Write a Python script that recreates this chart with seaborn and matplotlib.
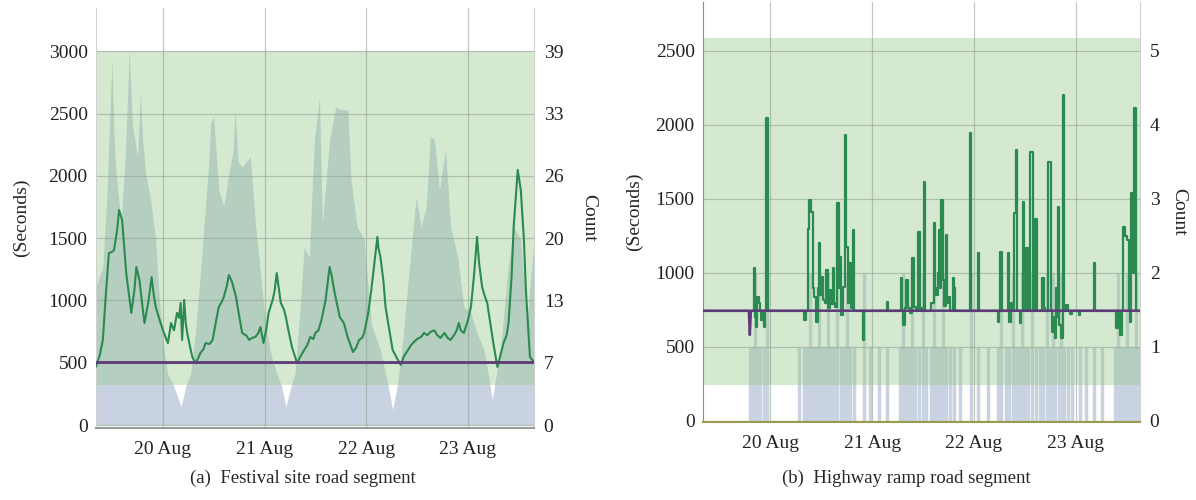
import numpy as np
import matplotlib
matplotlib.use("Agg")
import matplotlib.pyplot as plt
import seaborn as sns

sns.set_style("white")
plt.rcParams["font.family"] = ["Liberation Serif", "DejaVu Serif"]

# ---- (a) festival site road segment ----
# travel time (seconds), day of August as decimal
fest_days = [19.343, 19.38, 19.41, 19.44, 19.47, 19.50, 19.52, 19.55, 19.57, 19.60,
             19.64, 19.69, 19.72, 19.74, 19.77, 19.80, 19.82, 19.86, 19.89, 19.91,
             19.93, 19.97, 20.00, 20.03, 20.05, 20.07, 20.08, 20.11, 20.14, 20.16,
             20.175, 20.19, 20.21, 20.225, 20.24, 20.27, 20.29, 20.32, 20.35, 20.37,
             20.40, 20.42, 20.46, 20.49, 20.52, 20.55, 20.58, 20.60, 20.63, 20.65,
             20.68, 20.72, 20.75, 20.78, 20.82, 20.85, 20.88, 20.91, 20.94, 20.96,
             20.99, 21.02, 21.04, 21.08, 21.10, 21.12, 21.14, 21.16, 21.19, 21.21,
             21.24, 21.27, 21.32, 21.36, 21.39, 21.42, 21.45, 21.48, 21.50, 21.53,
             21.56, 21.60, 21.64, 21.66, 21.69, 21.74, 21.78, 21.82, 21.87, 21.90,
             21.93, 21.96, 21.98, 22.02, 22.05, 22.08, 22.11, 22.12, 22.14, 22.17,
             22.19, 22.23, 22.26, 22.30, 22.34, 22.37, 22.41, 22.44, 22.47, 22.50,
             22.54, 22.57, 22.60, 22.63, 22.67, 22.70, 22.73, 22.77, 22.80, 22.83,
             22.87, 22.89, 22.91, 22.93, 22.96, 23.00, 23.03, 23.06, 23.09, 23.11,
             23.14, 23.16, 23.19, 23.22, 23.25, 23.29, 23.32, 23.35, 23.38, 23.40,
             23.43, 23.45, 23.49, 23.52, 23.55, 23.57, 23.61, 23.65]
fest_secs = [468, 560, 683, 1050, 1381, 1390, 1405, 1560, 1726, 1646,
             1220, 900, 1080, 1269, 1164, 950, 819, 1000, 1188, 1050,
             948, 840, 763, 700, 658, 760, 819, 760, 900, 860,
             980, 683, 1004, 820, 739, 620, 546, 498, 540, 578,
             610, 658, 650, 683, 820, 948, 990, 1028, 1120, 1204,
             1150, 1028, 880, 739, 720, 683, 700, 707, 740, 787,
             658, 780, 900, 1004, 1080, 1220, 1100, 980, 930, 867,
             740, 626, 498, 560, 602, 640, 707, 690, 739, 760,
             843, 1000, 1269, 1200, 1060, 867, 819, 700, 586, 620,
             683, 700, 739, 900, 1084, 1300, 1510, 1420, 1349, 1150,
             948, 750, 602, 540, 482, 550, 602, 640, 667, 690,
             707, 740, 720, 747, 760, 720, 699, 740, 700, 683,
             730, 760, 819, 760, 739, 840, 948, 1200, 1510, 1300,
             1108, 1050, 980, 820, 658, 466, 560, 658, 720, 819,
             1200, 1590, 2048, 1887, 1500, 1084, 546, 506]
fest_free_days = [19.343, 23.65]
fest_free_secs = [505, 505]

# vehicle count (area)
fest_cnt_days = [19.343, 19.41, 19.45, 19.47, 19.50, 19.52, 19.54, 19.59, 19.63, 19.67,
                 19.70, 19.75, 19.78, 19.80, 19.83, 19.88, 19.93, 19.96, 20.00, 20.045,
                 20.11, 20.18, 20.225, 20.275, 20.32, 20.37, 20.42, 20.45, 20.47, 20.50,
                 20.55, 20.60, 20.65, 20.69, 20.71, 20.74, 20.78, 20.86, 20.91, 20.96,
                 21.01, 21.07, 21.12, 21.17, 21.21, 21.26, 21.30, 21.35, 21.39, 21.44,
                 21.49, 21.54, 21.57, 21.64, 21.70, 21.75, 21.82, 21.85, 21.91, 21.98,
                 22.05, 22.14, 22.21, 22.26, 22.31, 22.36, 22.42, 22.49, 22.54, 22.59,
                 22.63, 22.67, 22.72, 22.78, 22.83, 22.90, 22.96, 23.03, 23.09, 23.16,
                 23.21, 23.24, 23.27, 23.32, 23.39, 23.45, 23.52, 23.58, 23.65]
fest_cnt = [14.4, 16.5, 24.0, 29.8, 38.1, 30.0, 26.3, 21.1, 28.0, 39.1,
            31.5, 28.0, 34.7, 30.0, 26.3, 23.5, 19.3, 14.1, 8.9, 5.4,
            4.0, 1.9, 4.0, 5.4, 9.6, 15.9, 22.8, 27.0, 31.5, 32.2,
            24.5, 22.8, 26.3, 28.5, 32.9, 27.5, 26.9, 28.0, 21.1, 15.9,
            10.6, 7.1, 5.4, 4.0, 1.9, 4.0, 5.4, 12.3, 18.6, 17.5,
            29.8, 34.2, 21.1, 29.8, 33.2, 32.9, 32.9, 25.6, 20.7, 19.3,
            10.6, 7.8, 4.4, 1.6, 4.4, 8.9, 15.9, 23.8, 20.7, 22.8,
            30.1, 29.8, 24.5, 28.7, 20.7, 17.5, 12.3, 11.7, 9.6, 7.8,
            4.7, 2.6, 4.7, 7.8, 15.9, 20.7, 19.3, 10.6, 19.3]

fest_sec_ticks = [0, 500, 1000, 1500, 2000, 2500, 3000]
fest_cnt_labels = ["0", "7", "13", "20", "26", "33", "39"]

# ---- (b) highway ramp road segment ----
ramp_days = [19.34, 19.84, 19.85, 19.86, 19.87, 19.88, 19.89, 19.90, 19.92, 19.93,
             19.94, 19.95, 19.97, 19.98, 20.33, 20.34, 20.36, 20.38, 20.39, 20.41,
             20.42, 20.44, 20.46, 20.47, 20.48, 20.50, 20.51, 20.53, 20.54, 20.56,
             20.58, 20.59, 20.61, 20.62, 20.63, 20.65, 20.67, 20.68, 20.69, 20.70,
             20.72, 20.74, 20.75, 20.77, 20.78, 20.80, 20.82, 20.83, 20.91, 20.92,
             20.93, 21.14, 21.15, 21.16, 21.28, 21.29, 21.30, 21.31, 21.33, 21.34,
             21.36, 21.38, 21.40, 21.42, 21.44, 21.46, 21.48, 21.50, 21.51, 21.52,
             21.56, 21.60, 21.61, 21.62, 21.64, 21.65, 21.66, 21.67, 21.69, 21.70,
             21.72, 21.73, 21.74, 21.75, 21.77, 21.79, 21.80, 21.81, 21.82, 21.96,
             21.97, 21.98, 22.03, 22.04, 22.05, 22.23, 22.24, 22.25, 22.27, 22.28,
             22.33, 22.34, 22.35, 22.37, 22.38, 22.41, 22.42, 22.43, 22.45, 22.46,
             22.47, 22.49, 22.50, 22.53, 22.54, 22.57, 22.58, 22.61, 22.62, 22.66,
             22.68, 22.69, 22.71, 22.75, 22.76, 22.78, 22.79, 22.80, 22.81, 22.82,
             22.83, 22.84, 22.87, 22.88, 22.89, 22.92, 22.93, 22.96, 22.97, 23.03,
             23.04, 23.05, 23.17, 23.18, 23.19, 23.39, 23.40, 23.42, 23.44, 23.46,
             23.47, 23.49, 23.51, 23.53, 23.54, 23.55, 23.57, 23.58, 23.60, 23.63]
ramp_secs = [745, 745, 1034, 700, 635, 838, 800, 745, 682, 745,
             635, 745, 2047, 745, 745, 682, 745, 1300, 1493, 1412,
             900, 838, 669, 900, 1203, 850, 973, 820, 797, 1020,
             760, 885, 790, 1034, 800, 770, 1473, 900, 1108, 716,
             905, 1932, 1176, 800, 1068, 760, 1291, 745, 745, 547,
             745, 745, 804, 745, 745, 966, 745, 648, 760, 953,
             760, 730, 1101, 770, 745, 1277, 745, 760, 1615, 745,
             745, 800, 1338, 900, 850, 1000, 1291, 900, 1493, 950,
             780, 1257, 800, 838, 745, 745, 966, 900, 745, 745,
             1946, 745, 745, 1135, 745, 745, 669, 745, 1142, 745,
             745, 1135, 669, 800, 745, 1405, 1831, 745, 745, 662,
             745, 1480, 745, 1169, 745, 1818, 745, 1365, 745, 745,
             966, 760, 745, 1750, 745, 601, 700, 560, 899, 700,
             1446, 650, 561, 2203, 745, 784, 745, 720, 745, 745,
             716, 745, 745, 1068, 745, 745, 628, 745, 581, 745,
             1311, 1250, 1223, 745, 669, 1541, 1000, 2115, 745, 745]
ramp_free_days = [19.34, 19.79, 19.80, 19.81, 23.63]
ramp_free_secs = [745, 745, 581, 745, 745]

ramp_cnt_days = [19.80, 19.82, 19.85, 19.87, 19.90, 19.94, 19.97, 20.28, 20.33, 20.36,
                 20.39, 20.42, 20.45, 20.48, 20.51, 20.54, 20.57, 20.60, 20.63, 20.66,
                 20.69, 20.72, 20.75, 20.78, 20.82, 20.92, 20.98, 21.07, 21.15, 21.27,
                 21.30, 21.33, 21.36, 21.39, 21.42, 21.46, 21.50, 21.53, 21.58, 21.61,
                 21.64, 21.67, 21.70, 21.73, 21.76, 21.80, 21.86, 21.97, 22.04, 22.14,
                 22.24, 22.27, 22.31, 22.34, 22.38, 22.41, 22.44, 22.47, 22.50, 22.53,
                 22.57, 22.61, 22.65, 22.68, 22.72, 22.75, 22.78, 22.80, 22.83, 22.85,
                 22.88, 22.92, 22.96, 23.04, 23.10, 23.18, 23.26, 23.38, 23.41, 23.44,
                 23.47, 23.50, 23.53, 23.56, 23.59, 23.62]
ramp_cnt = [1, 1, 2, 1, 1, 1, 2, 1, 1, 1,
            2, 1, 1, 2, 1, 1, 2, 1, 1, 2,
            1, 1, 2, 1, 1, 2, 1, 1, 1, 1,
            2, 1, 1, 2, 1, 1, 2, 1, 1, 2,
            1, 1, 2, 1, 1, 1, 1, 2, 1, 1,
            1, 2, 1, 1, 2, 1, 1, 2, 1, 1,
            2, 1, 1, 1, 2, 1, 2, 1, 1, 2,
            1, 1, 1, 1, 1, 1, 1, 1, 2, 1,
            1, 2, 1, 1, 2, 1]

ramp_sec_ticks = [0, 500, 1000, 1500, 2000, 2500]
ramp_cnt_labels = ["0", "1", "2", "3", "4", "5"]

day_ticks = [20, 21, 22, 23]
day_labels = ["20 Aug", "21 Aug", "22 Aug", "23 Aug"]

BAND = "#96ca8e"      # drawn translucent over the count marks
CNT = "#c8d2e1"
LINE = "#2b8a4f"
FREE = "#5e3a78"
GRID = "#8f9f8f"
FS = 14

fig = plt.figure(figsize=(11.96, 5), dpi=100)


def make_panel(rect, xlim, ylim, k, band, sec_ticks, cnt_labels, bottom_col, left_col,
               ylab_pad, cnt_pad):
    ax = fig.add_axes(rect)
    axc = ax.twinx()
    ax.set_zorder(axc.get_zorder() + 1)
    ax.patch.set_visible(False)
    axc.patch.set_visible(True)
    axc.patch.set_facecolor("white")
    ax.set_xlim(*xlim)
    ax.set_ylim(*ylim)
    axc.set_ylim(ylim[0] * k, ylim[1] * k)
    # translucent green band above the count marks
    ax.axhspan(band[0], band[1], color=BAND, alpha=0.4, lw=0, zorder=0)
    ax.set_xticks(day_ticks)
    ax.set_xticklabels(day_labels)
    ax.set_yticks(sec_ticks)
    ax.set_yticklabels([str(t) for t in sec_ticks])
    axc.set_yticks([t * k for t in sec_ticks])
    axc.set_yticklabels(cnt_labels)
    for a in (ax, axc):
        a.tick_params(length=0, labelsize=FS, colors="#222222")
        for s in a.spines.values():
            s.set_visible(False)
    ax.tick_params(axis="y", pad=6)
    ax.tick_params(axis="x", pad=9)
    axc.tick_params(axis="y", pad=7)
    ax.grid(True, color=GRID, lw=0.9, alpha=0.55, zorder=0.5)
    ax.set_axisbelow(True)
    ax.spines["bottom"].set_visible(True)
    ax.spines["bottom"].set_color(bottom_col)
    ax.spines["bottom"].set_linewidth(1.5)
    ax.spines["left"].set_visible(True)
    ax.spines["left"].set_color(left_col)
    ax.spines["right"].set_visible(True)
    ax.spines["right"].set_color("#d0d0d0")
    ax.set_ylabel("(Seconds)", fontsize=FS, labelpad=ylab_pad)
    axc.set_ylabel("Count", fontsize=FS, rotation=270, labelpad=cnt_pad, va="bottom")
    return ax, axc


# panel (a)
k_a = 0.013
ax_a, axc_a = make_panel([96 / 1196, 72 / 500, 438 / 1196, 420 / 500],
                         (19.343, 23.65), (-24, 3348), k_a, (320, 3000),
                         fest_sec_ticks, fest_cnt_labels, "#9a9a9a", "#d0d0d0", 13, 12)
axc_a.fill_between(fest_cnt_days, 0, fest_cnt, color=CNT, lw=0, zorder=1)
sns.lineplot(x=fest_days, y=fest_secs, ax=ax_a, color=LINE, lw=1.5, zorder=3)
sns.lineplot(x=fest_free_days, y=fest_free_secs, ax=ax_a, color=FREE, lw=2, zorder=4)

# panel (b)
k_b = 1 / 500
ax_b, axc_b = make_panel([703 / 1196, 78 / 500, 437 / 1196, 420.5 / 500],
                         (19.34, 23.63), (-7, 2834), k_b, (245, 2585),
                         ramp_sec_ticks, ramp_cnt_labels, "#9b9b4f", "#8c8c8c", 9, 8)
axc_b.vlines(ramp_cnt_days, 0, ramp_cnt, color=CNT, lw=2.5, zorder=1)
sns.lineplot(x=ramp_days, y=ramp_secs, ax=ax_b, color=LINE, lw=1.6, zorder=3,
             drawstyle="steps-mid")
sns.lineplot(x=ramp_free_days, y=ramp_free_secs, ax=ax_b, color=FREE, lw=1.8, zorder=4)

fig.text(303 / 1196, 1 - 478 / 500, "(a)  Festival site road segment",
         ha="center", va="center", fontsize=13.5)
fig.text(906 / 1196, 1 - 478 / 500, "(b)  Highway ramp road segment",
         ha="center", va="center", fontsize=13.5)

fig.savefig("out.png", dpi=100)
